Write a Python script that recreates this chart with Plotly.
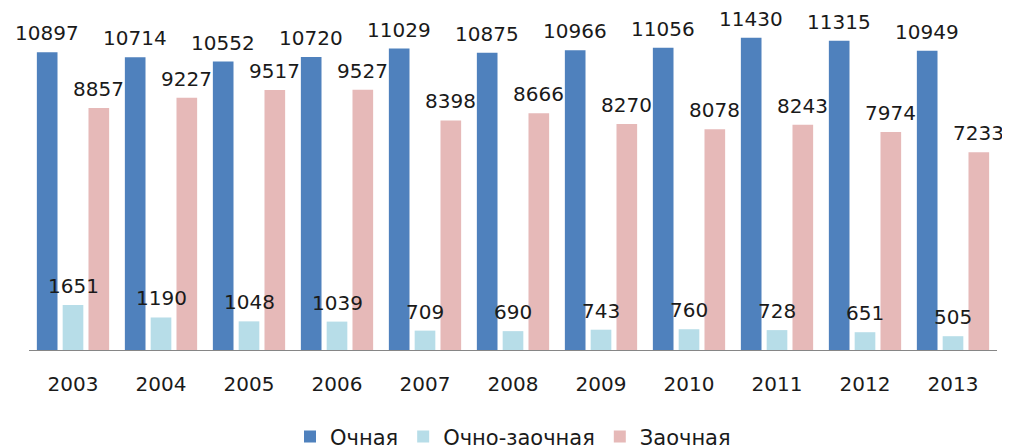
import plotly.graph_objects as go

years = ["2003", "2004", "2005", "2006", "2007", "2008", "2009", "2010", "2011", "2012", "2013"]
ochnaya = [10897, 10714, 10552, 10720, 11029, 10875, 10966, 11056, 11430, 11315, 10949]
ochno_zaochnaya = [1651, 1190, 1048, 1039, 709, 690, 743, 760, 728, 651, 505]
zaochnaya = [8857, 9227, 9517, 9527, 8398, 8666, 8270, 8078, 8243, 7974, 7233]

series = [
    ("Очная", ochnaya, "#4F81BD"),
    ("Очно-заочная", ochno_zaochnaya, "#B7DDE8"),
    ("Заочная", zaochnaya, "#E6B9B8"),
]

FONT = "DejaVu Sans"
fig = go.Figure()
for name, vals, color in series:
    fig.add_trace(go.Bar(name=name, x=years, y=vals, marker=dict(color=color, line=dict(width=0))))

shifts = [-25.8, 0, 25.8]
annotations = []
for (name, vals, color), dx in zip(series, shifts):
    for i, v in enumerate(vals):
        annotations.append(dict(x=i, y=v, xref="x", yref="y", text=str(v), showarrow=False,
                                xshift=dx, yshift=6, yanchor="bottom", xanchor="center",
                                borderpad=0,
                                font=dict(family=FONT, size=20, color="#1a1a1a")))

# page body has an 8px default margin, so the figure is sized/offset to compensate
fig.update_layout(
    width=1002, height=438,
    margin=dict(l=21, r=13, t=0, b=96, autoexpand=False),
    paper_bgcolor="white", plot_bgcolor="white",
    barmode="group", bargap=0.12, bargroupgap=0.2,
    showlegend=True,
    legend=dict(orientation="h", x=0.5, xanchor="center", y=-0.254, yanchor="middle",
                font=dict(family=FONT, size=21, color="#1a1a1a"), bgcolor="rgba(0,0,0,0)"),
    annotations=annotations,
    font=dict(family=FONT, color="#1a1a1a"),
)
fig.update_xaxes(type="category", range=[-0.5, len(years) - 0.5], showline=True, linecolor="#868686",
                 linewidth=1, ticks="", showgrid=False,
                 tickfont=dict(family=FONT, size=20, color="#1a1a1a"), ticklabelstandoff=16)
fig.update_yaxes(range=[0, 12514], visible=False, showgrid=False)

fig.write_html("out.html")
